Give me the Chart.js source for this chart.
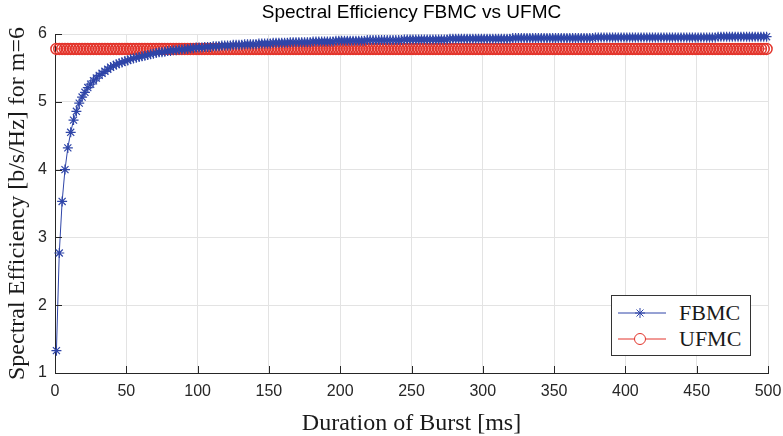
<!DOCTYPE html>
<html lang="en">
<head>
  <meta charset="UTF-8">
  <title>Spectral Efficiency FBMC vs UFMC</title>
  <script src="https://cdn.jsdelivr.net/npm/chart.js"></script>
  <style>
    body { margin: 0; background: #fff; }
    #wrap { position: relative; width: 783px; height: 436px; }
    #title {
      position: absolute; left: 55px; width: 713px; top: 1px;
      text-align: center; font: 19px "Liberation Sans", Helvetica, Arial, sans-serif; color: #000;
    }
    #legend {
      position: absolute; left: 611px; top: 295px; width: 138px; height: 59px;
      border: 1px solid #333; background: #fff;
      font: 22px "Liberation Serif", "Times New Roman", serif; color: #1a1a1a;
    }
    #legend .row { position: absolute; left: 6px; height: 26px; display: flex; align-items: center; }
    #legend svg { margin-right: 13px; }
  </style>
</head>
<body>
<div id="wrap">
  <canvas id="chart" width="783" height="436"></canvas>
  <div id="title">Spectral Efficiency FBMC vs UFMC</div>
  <div id="legend">
    <div class="row" style="top:4px">
      <svg width="48" height="14"><line x1="0" y1="7" x2="48" y2="7" stroke="#2f45a8" stroke-width="1"/>
        <g stroke="#2f45a8" stroke-width="1"><line x1="22" y1="2" x2="22" y2="12"/><line x1="17" y1="7" x2="27" y2="7"/><line x1="18.5" y1="3.5" x2="25.5" y2="10.5"/><line x1="18.5" y1="10.5" x2="25.5" y2="3.5"/></g></svg>
      FBMC
    </div>
    <div class="row" style="top:30px">
      <svg width="48" height="14"><line x1="0" y1="7" x2="48" y2="7" stroke="#e3352c" stroke-width="1"/>
        <circle cx="22" cy="7" r="5.5" fill="#fff" stroke="#e3352c" stroke-width="1"/></svg>
      UFMC
    </div>
  </div>
</div>

<script>
  // Burst duration [ms]
  const durations = [
    1,3,5,7,9,11,13,15,17,19,21,23,25,27,29,31,33,35,37,39,41,43,45,47,49,
    51,53,55,57,59,61,63,65,67,69,71,73,75,77,79,81,83,85,87,89,91,93,95,97,99,
    101,103,105,107,109,111,113,115,117,119,121,123,125,127,129,131,133,135,137,139,141,143,145,147,149,
    151,153,155,157,159,161,163,165,167,169,171,173,175,177,179,181,183,185,187,189,191,193,195,197,199,
    201,203,205,207,209,211,213,215,217,219,221,223,225,227,229,231,233,235,237,239,241,243,245,247,249,
    251,253,255,257,259,261,263,265,267,269,271,273,275,277,279,281,283,285,287,289,291,293,295,297,299,
    301,303,305,307,309,311,313,315,317,319,321,323,325,327,329,331,333,335,337,339,341,343,345,347,349,
    351,353,355,357,359,361,363,365,367,369,371,373,375,377,379,381,383,385,387,389,391,393,395,397,399,
    401,403,405,407,409,411,413,415,417,419,421,423,425,427,429,431,433,435,437,439,441,443,445,447,449,
    451,453,455,457,459,461,463,465,467,469,471,473,475,477,479,481,483,485,487,489,491,493,495,497,499
  ];

  // Spectral efficiency [b/s/Hz], m=6
  const fbmc = [
    1.33,2.77,3.53,4.00,4.32,4.55,4.73,4.86,4.98,5.07,5.14,5.21,5.26,5.31,5.35,5.39,5.42,5.45,5.48,5.51,5.53,5.55,5.57,5.58,5.60,
    5.61,5.63,5.64,5.65,5.66,5.67,5.68,5.69,5.70,5.71,5.72,5.73,5.73,5.74,5.75,5.75,5.76,5.76,5.77,5.77,5.78,5.78,5.79,5.79,5.80,
    5.80,5.80,5.81,5.81,5.81,5.82,5.82,5.82,5.83,5.83,5.83,5.83,5.84,5.84,5.84,5.84,5.85,5.85,5.85,5.85,5.85,5.86,5.86,5.86,5.86,
    5.86,5.87,5.87,5.87,5.87,5.87,5.87,5.88,5.88,5.88,5.88,5.88,5.88,5.88,5.88,5.89,5.89,5.89,5.89,5.89,5.89,5.89,5.89,5.90,5.90,
    5.90,5.90,5.90,5.90,5.90,5.90,5.90,5.90,5.90,5.91,5.91,5.91,5.91,5.91,5.91,5.91,5.91,5.91,5.91,5.91,5.91,5.91,5.92,5.92,5.92,
    5.92,5.92,5.92,5.92,5.92,5.92,5.92,5.92,5.92,5.92,5.92,5.92,5.92,5.93,5.93,5.93,5.93,5.93,5.93,5.93,5.93,5.93,5.93,5.93,5.93,
    5.93,5.93,5.93,5.93,5.93,5.93,5.93,5.93,5.93,5.93,5.94,5.94,5.94,5.94,5.94,5.94,5.94,5.94,5.94,5.94,5.94,5.94,5.94,5.94,5.94,
    5.94,5.94,5.94,5.94,5.94,5.94,5.94,5.94,5.94,5.94,5.94,5.94,5.94,5.94,5.95,5.95,5.95,5.95,5.95,5.95,5.95,5.95,5.95,5.95,5.95,
    5.95,5.95,5.95,5.95,5.95,5.95,5.95,5.95,5.95,5.95,5.95,5.95,5.95,5.95,5.95,5.95,5.95,5.95,5.95,5.95,5.95,5.95,5.95,5.95,5.95,
    5.95,5.95,5.95,5.95,5.95,5.95,5.95,5.96,5.96,5.96,5.96,5.96,5.96,5.96,5.96,5.96,5.96,5.96,5.96,5.96,5.96,5.96,5.96,5.96,5.96
  ];

  const ufmc = [
    5.78,5.78,5.78,5.78,5.78,5.78,5.78,5.78,5.78,5.78,5.78,5.78,5.78,5.78,5.78,5.78,5.78,5.78,5.78,5.78,5.78,5.78,5.78,5.78,5.78,
    5.78,5.78,5.78,5.78,5.78,5.78,5.78,5.78,5.78,5.78,5.78,5.78,5.78,5.78,5.78,5.78,5.78,5.78,5.78,5.78,5.78,5.78,5.78,5.78,5.78,
    5.78,5.78,5.78,5.78,5.78,5.78,5.78,5.78,5.78,5.78,5.78,5.78,5.78,5.78,5.78,5.78,5.78,5.78,5.78,5.78,5.78,5.78,5.78,5.78,5.78,
    5.78,5.78,5.78,5.78,5.78,5.78,5.78,5.78,5.78,5.78,5.78,5.78,5.78,5.78,5.78,5.78,5.78,5.78,5.78,5.78,5.78,5.78,5.78,5.78,5.78,
    5.78,5.78,5.78,5.78,5.78,5.78,5.78,5.78,5.78,5.78,5.78,5.78,5.78,5.78,5.78,5.78,5.78,5.78,5.78,5.78,5.78,5.78,5.78,5.78,5.78,
    5.78,5.78,5.78,5.78,5.78,5.78,5.78,5.78,5.78,5.78,5.78,5.78,5.78,5.78,5.78,5.78,5.78,5.78,5.78,5.78,5.78,5.78,5.78,5.78,5.78,
    5.78,5.78,5.78,5.78,5.78,5.78,5.78,5.78,5.78,5.78,5.78,5.78,5.78,5.78,5.78,5.78,5.78,5.78,5.78,5.78,5.78,5.78,5.78,5.78,5.78,
    5.78,5.78,5.78,5.78,5.78,5.78,5.78,5.78,5.78,5.78,5.78,5.78,5.78,5.78,5.78,5.78,5.78,5.78,5.78,5.78,5.78,5.78,5.78,5.78,5.78,
    5.78,5.78,5.78,5.78,5.78,5.78,5.78,5.78,5.78,5.78,5.78,5.78,5.78,5.78,5.78,5.78,5.78,5.78,5.78,5.78,5.78,5.78,5.78,5.78,5.78,
    5.78,5.78,5.78,5.78,5.78,5.78,5.78,5.78,5.78,5.78,5.78,5.78,5.78,5.78,5.78,5.78,5.78,5.78,5.78,5.78,5.78,5.78,5.78,5.78,5.78
  ];

  const xTicks = [0, 50, 100, 150, 200, 250, 300, 350, 400, 450, 500];
  const yTicks = [1, 2, 3, 4, 5, 6];

  const BLUE = '#2f45a8';
  const RED = '#e3352c';
  const AXIS = '#262626';

  // MATLAB style: ticks pointing into the plot
  const innerTicks = {
    id: 'innerTicks',
    afterDatasetsDraw(chart) {
      const { ctx, chartArea: a, scales: { x, y } } = chart;
      const len = 7;
      ctx.save();
      ctx.strokeStyle = AXIS;
      ctx.lineWidth = 1;
      ctx.beginPath();
      xTicks.forEach(v => {
        const px = Math.round(x.getPixelForValue(v)) + 0.5;
        ctx.moveTo(px, a.bottom);
        ctx.lineTo(px, a.bottom - len);
      });
      yTicks.forEach(v => {
        const py = Math.round(y.getPixelForValue(v)) + 0.5;
        ctx.moveTo(a.left, py);
        ctx.lineTo(a.left + len, py);
      });
      ctx.stroke();
      ctx.restore();
    }
  };

  const ctx = document.getElementById('chart').getContext('2d');
  new Chart(ctx, {
    type: 'line',
    data: {
      datasets: [
        {
          label: 'FBMC',
          data: durations.map((d, i) => ({ x: d, y: fbmc[i] })),
          borderColor: BLUE,
          borderWidth: 1,
          pointStyle: 'star',
          pointRadius: 5,
          pointBorderColor: BLUE,
          pointBorderWidth: 1.2,
          pointBackgroundColor: BLUE,
          fill: false,
          tension: 0,
          clip: false
        },
        {
          label: 'UFMC',
          data: durations.map((d, i) => ({ x: d, y: ufmc[i] })),
          borderColor: RED,
          borderWidth: 1,
          pointStyle: 'circle',
          pointRadius: 5.5,
          pointBorderColor: RED,
          pointBorderWidth: 1.5,
          pointBackgroundColor: 'rgba(0,0,0,0)',
          fill: false,
          tension: 0,
          clip: false
        }
      ]
    },
    options: {
      responsive: false,
      animation: false,
      layout: { padding: { top: 34, right: 15, left: 0, bottom: 0 } },
      plugins: {
        legend: { display: false },
        title: { display: false },
        tooltip: { enabled: false }
      },
      scales: {
        x: {
          type: 'linear',
          min: 0,
          max: 500,
          afterFit: s => { s.height = 63; s.paddingLeft = 0; s.paddingRight = 0; },
          afterBuildTicks: s => { s.ticks = xTicks.map(v => ({ value: v })); },
          grid: { color: '#e3e3e3', drawTicks: false },
          border: { display: true, color: AXIS, width: 1 },
          ticks: {
            padding: 9,
            maxRotation: 0,
            color: AXIS,
            font: { family: '"Liberation Sans", Helvetica, Arial, sans-serif', size: 16 }
          },
          title: {
            display: true,
            text: 'Duration of Burst [ms]',
            color: '#1a1a1a',
            padding: 0,
            font: { family: '"Liberation Serif", "Times New Roman", serif', size: 24, lineHeight: 1 }
          }
        },
        y: {
          min: 1,
          max: 6,
          afterFit: s => { s.width = 55; s.paddingTop = 0; s.paddingBottom = 0; },
          afterBuildTicks: s => { s.ticks = yTicks.map(v => ({ value: v })); },
          grid: { color: '#e3e3e3', drawTicks: false },
          border: { display: true, color: AXIS, width: 1 },
          ticks: {
            padding: 8,
            color: AXIS,
            font: { family: '"Liberation Sans", Helvetica, Arial, sans-serif', size: 16 }
          },
          title: {
            display: true,
            text: 'Spectral Efficiency [b/s/Hz] for m=6',
            color: '#1a1a1a',
            padding: { top: 6, bottom: 0 },
            font: { family: '"Liberation Serif", "Times New Roman", serif', size: 24, lineHeight: 1 }
          }
        }
      }
    },
    plugins: [innerTicks]
  });
</script>
</body>
</html>
